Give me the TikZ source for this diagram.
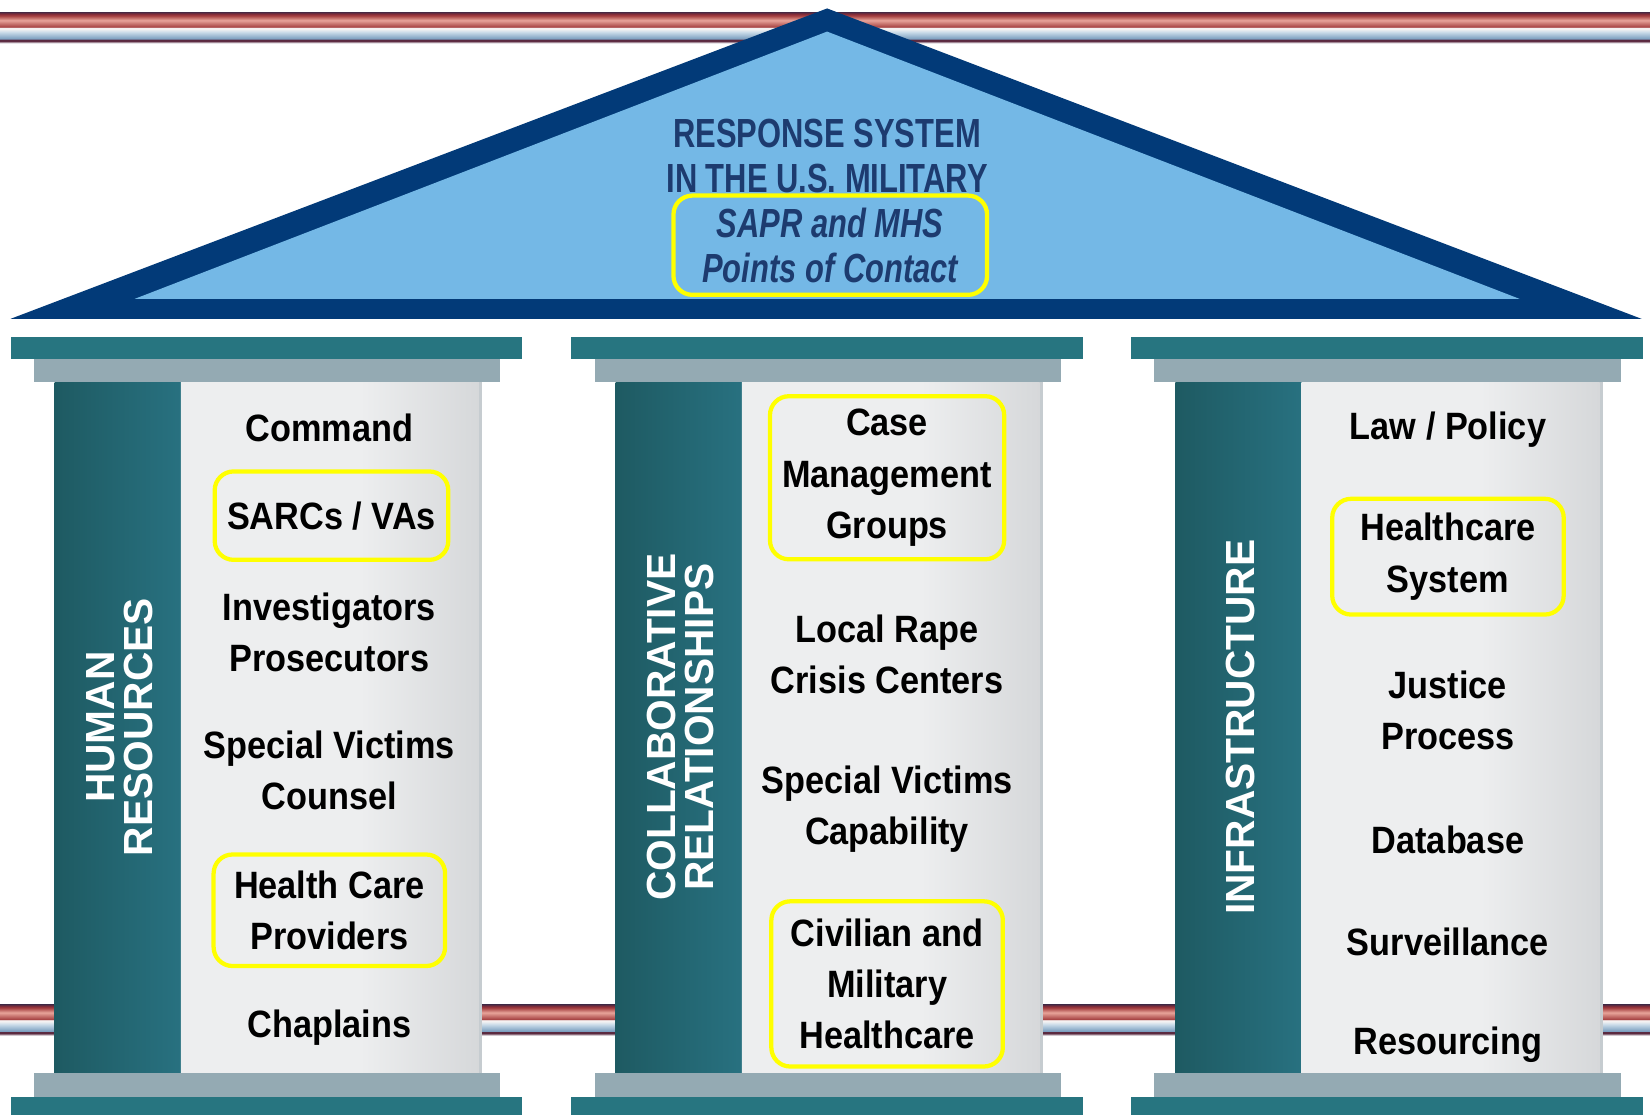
\documentclass[tikz,border=0pt]{standalone}
\usepackage{fontspec}
\setmainfont{Liberation Sans}
\newfontfamily\itemfont[FakeStretch=0.9]{Liberation Sans}
\newfontfamily\rooffont[FakeStretch=0.76]{Liberation Sans}

\definecolor{roofdark}{HTML}{023A78}
\definecolor{rooflight}{HTML}{74B8E6}
\definecolor{roofnavy}{HTML}{1D3B6F}
\definecolor{slabteal}{HTML}{277580}
\definecolor{slabgrey}{HTML}{94AAB3}
\definecolor{shaftdark}{HTML}{1E5A62}
\definecolor{shaftteal}{HTML}{287180}
\definecolor{shaftpale}{HTML}{EDEEEF}
\definecolor{shaftshadow}{HTML}{D6D8DA}
\definecolor{shaftedge}{HTML}{C6CCD0}
\definecolor{hiyellow}{HTML}{FFFF00}
\definecolor{fadegrey}{HTML}{F2F2F5}
\definecolor{banddark}{HTML}{5B2A40}
\definecolor{bandblue}{HTML}{7B9EBF}
\definecolor{bandpale}{HTML}{C8DAE8}
\definecolor{bandwhite}{HTML}{F4F2F2}
\definecolor{bandred}{HTML}{A84545}
\definecolor{bandpink}{HTML}{E8A49A}
\definecolor{bandwine}{HTML}{8E2E38}

% red/white/blue rail behind the roof and the columns
\pgfdeclareverticalshading{railband}{100bp}{color(0bp)=(fadegrey); color(25bp)=(fadegrey);
  color(28.6bp)=(banddark); color(31.2bp)=(banddark); color(32.1bp)=(bandblue);
  color(42.9bp)=(bandpale); color(48.2bp)=(bandwhite); color(50bp)=(bandwhite);
  color(51.8bp)=(bandred); color(62.5bp)=(bandpink); color(69.6bp)=(bandred);
  color(72.3bp)=(bandwine); color(75bp)=(banddark); color(100bp)=(banddark)}
% pale face of a column, darker towards its right edge
\pgfdeclarehorizontalshading{shaftlight}{100bp}{color(0bp)=(shaftpale); color(55bp)=(shaftpale);
  color(75bp)=(shaftshadow); color(100bp)=(shaftshadow)}

\begin{document}
\begin{tikzpicture}[x=0.1mm, y=-0.1mm,
    slab/.style={fill=slabteal},
    plinth/.style={fill=slabgrey},
    item/.style={font=\itemfont\bfseries\fontsize{10.3}{13.9}\selectfont, align=center, text=black},
    pillarname/.style={font=\bfseries\fontsize{11}{10.3}\selectfont, text=white, rotate=90, align=center},
    hilite/.style={draw=hiyellow, line width=1.15pt, rounded corners=1.8mm, minimum width=22mm},
    rooftext/.style={font=\rooffont\bfseries\fontsize{11}{12.1}\selectfont, text=roofnavy, align=center}]

    \fill[white] (0,0) rectangle (1568,1060);
    \useasboundingbox (0,0) rectangle (1568,1060);

    % rails
    \shade[shading=railband] (0,12) rectangle (1568,41);
    \shade[shading=railband] (0,955) rectangle (1568,984);

    % roof
    \fill[roofdark] (10,303) -- (786,8) -- (1560,303) -- cycle;
    \fill[rooflight] (128,284) -- (786,30) -- (1444,284) -- cycle;

    \node[rooftext] (title) at (786,148) {RESPONSE SYSTEM\\IN THE U.S. MILITARY};
    \node[rooftext, font=\rooffont\bfseries\itshape\fontsize{11}{12.1}\selectfont,
          hilite, minimum width=29.8mm, minimum height=8.5mm] (poc) at (789,233) {SAPR and MHS\\Points of Contact};

    % columns
    \foreach \px/\colname/\tag in {0/{HUMAN\\RESOURCES}/hr, 533/{COLLABORATIVE\\RELATIONSHIPS}/cr, 1065/INFRASTRUCTURE/infra} {
        \fill[slab] (\px+10,320) rectangle (\px+496,341);
        \fill[plinth] (\px+32,341) rectangle (\px+475,363);
        \shade[left color=shaftdark, right color=shaftteal] (\px+52,363) rectangle (\px+172,1020);
        \fill[shaftedge] (\px+172,363) rectangle (\px+458,1020);
        \shade[shading=shaftlight] (\px+172,363) rectangle (\px+455,1020);
        \fill[plinth] (\px+32,1020) rectangle (\px+475,1042);
        \fill[slab] (\px+10,1042) rectangle (\px+496,1060);
        \node[pillarname] (\tag) at (\px+114,691) {\colname};
    }

    % human resources
    \node[item] (command) at (313,407) {Command};
    \node[item, hilite, minimum height=8.4mm] (sarcs) at (315,490) {SARCs / VAs};
    \node[item] (invest) at (313,601) {Investigators\\Prosecutors};
    \node[item] (svcounsel) at (313,732) {Special Victims\\Counsel};
    \node[item, hilite, minimum height=10.6mm] (hcp) at (313,865) {Health Care\\Providers};
    \node[item] (chaplains) at (313,977) {Chaplains};

    % collaborative relationships
    \node[item, hilite, minimum height=15.5mm] (casemgmt) at (843,454) {Case\\Management\\Groups};
    \node[item] (rapecrisis) at (843,622) {Local Rape\\Crisis Centers};
    \node[item] (svcap) at (843,769) {Special Victims\\Capability};
    \node[item, hilite, minimum height=15.7mm] (civmil) at (843,935) {Civilian and\\Military\\Healthcare};

    % infrastructure
    \node[item] (law) at (1376,408) {Law / Policy};
    \node[item, hilite, minimum height=11mm] (hcsys) at (1376,529) {Healthcare\\System};
    \node[item] (justice) at (1376,675) {Justice\\Process};
    \node[item] (database) at (1376,798) {Database};
    \node[item] (surveil) at (1376,895) {Surveillance};
    \node[item] (resourcing) at (1376,993) {Resourcing};
\end{tikzpicture}
\end{document}
